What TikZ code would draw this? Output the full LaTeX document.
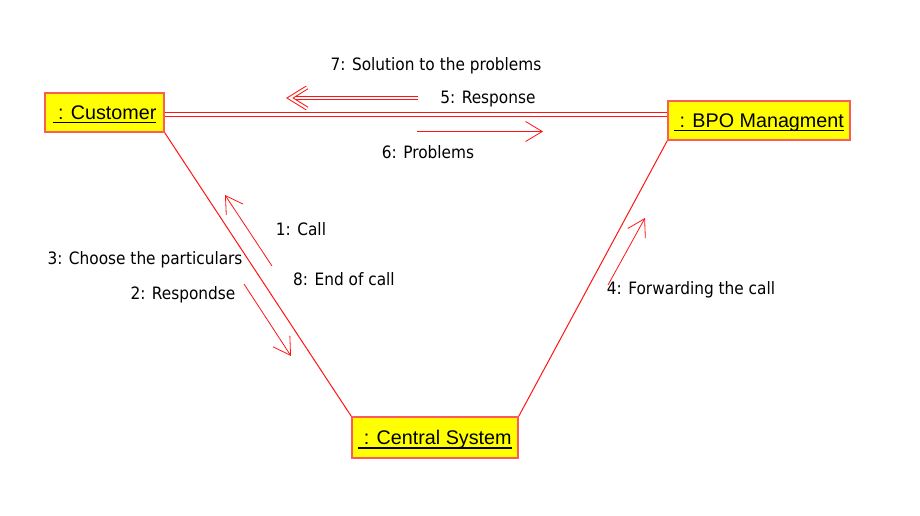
\documentclass[tikz,border=0pt]{standalone}
\usepackage{fontspec}
\setmainfont{Liberation Sans}
\newfontfamily\msgfont{DejaVu Sans Condensed}
\usetikzlibrary{arrows.meta}
\definecolor{objfill}{RGB}{255,255,0}
\definecolor{objline}{RGB}{255,90,90}
\definecolor{linkred}{RGB}{255,20,20}
% underline at a fixed depth below the baseline
\newcommand{\objul}[1]{\setbox0\hbox{#1}\rlap{\rule[-3pt]{\wd0}{1.1pt}}\box0}

\tikzset{
  object/.style={draw=objline, fill=objfill, line width=1.1pt, inner sep=0pt,
    text height=10.5pt, text depth=0pt, font=\fontsize{14.8pt}{16pt}\selectfont},
  link/.style={draw=linkred, line width=0.75pt},
  link2/.style={draw=linkred, line width=0.8pt, double=white, double distance=1.6pt},
  msg/.style={linkred, line width=0.6pt, -{Straight Barb[length=12.5pt, width=15pt]}},
  msg2/.style={draw=linkred, line width=0.75pt, double=white, double distance=1.6pt,
    line join=miter},
  msglbl/.style={font=\msgfont\fontsize{12.8pt}{14pt}\selectfont, inner sep=0pt,
    text height=9.3pt, text depth=0pt}
}

\begin{document}
\begin{tikzpicture}[x=0.75pt, y=-0.75pt]

  % page frame 920 x 516
  \fill[white] (0,0) rectangle (920,516);

  % the three objects
  \node[object, minimum width=89.25pt, minimum height=29.25pt] (cust) at (104.5,112.5)
    {\objul{\ : Customer}};
  \node[object, minimum width=136.5pt, minimum height=29.25pt] (bpo) at (759,120.5)
    {\objul{\ : BPO Managment}};
  \node[object, minimum width=124.5pt, minimum height=30.75pt] (central) at (435,437.5)
    {\objul{\ : Central System}};

  % links
  \draw[link2] ([yshift=-1.5pt]cust.east) -- ([yshift=-1.5pt]cust.east -| bpo.west);
  \draw[link] (cust.south east) -- (central.north west);
  \draw[link] (central.north east) -- (bpo.south west);

  % messages
  \draw[msg2] (418,98) -- (291,98);
  \draw[msg2] (307,87.5) -- (290,98) -- (307,108.5);
  \draw[msg] (417,131.5) -- (543,131.5);
  \draw[msg] (272,266) -- (225,195);
  \draw[msg] (244,284) -- (291,356);
  \draw[msg] (608,285) -- (645,218);

  \node[msglbl] (m7) at (436,64.5) {7: Solution to the problems};
  \node[msglbl] (m5) at (488,97.5) {5: Response};
  \node[msglbl] (m6) at (428,152.5) {6: Problems};
  \node[msglbl] (m1) at (301,229.5) {1: Call};
  \node[msglbl] (m8) at (344,279.5) {8: End of call};
  \node[msglbl] (m3) at (145,258) {3: Choose the particulars};
  \node[msglbl] (m2) at (183,293) {2: Respondse};
  \node[msglbl] (m4) at (691,288.3) {4: Forwarding the call};

\end{tikzpicture}
\end{document}
